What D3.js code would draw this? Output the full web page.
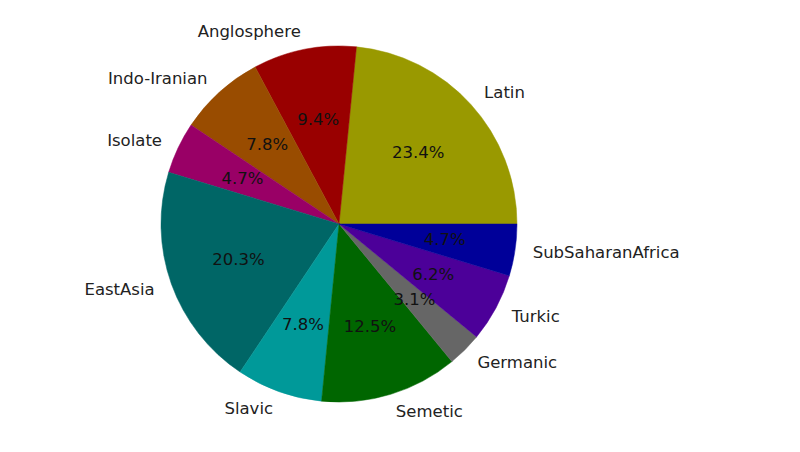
<!DOCTYPE html>
<html>
<head>
<meta charset="utf-8">
<script src="https://cdn.jsdelivr.net/npm/d3@7"></script>
<style>
  body { margin: 0; background: #fff; }
  text { font-family: "DejaVu Sans", sans-serif; }
</style>
</head>
<body>
<div id="chart"></div>
<script>
let width = 800,
    height = 452

// counts per language family (out of 64)
let families = ["Latin", "Anglosphere", "Indo-Iranian", "Isolate", "EastAsia",
                "Slavic", "Semetic", "Germanic", "Turkic", "SubSaharanAfrica"]
let counts = [15, 6, 5, 3, 13, 5, 8, 2, 4, 3]
let colors = ["#999900", "#990000", "#994c00", "#990066", "#006666",
              "#009999", "#006600", "#666666", "#4c0099", "#000099"]

let cx = 339, cy = 224, radius = 178

let svg = d3.select("#chart").append("svg")
  .attr("width", width)
  .attr("height", height)

let total = d3.sum(counts)

// matplotlib style: start at 3 o'clock, go counterclockwise
let pie = d3.pie()
  .sort(null)
  .startAngle(Math.PI / 2)
  .endAngle(Math.PI / 2 - 2 * Math.PI)

let arcs = pie(counts)

let arc = d3.arc()
  .innerRadius(0)
  .outerRadius(radius)

let g = svg.append("g")
  .attr("transform", "translate(" + cx + "," + cy + ")")

g.selectAll(".wedge")
  .data(arcs)
  .enter().append("path")
  .attr("class", "wedge")
  .attr("d", arc)
  .style("fill", (d, i) => colors[i])
  .style("stroke", (d, i) => colors[i])
  .style("stroke-width", 0.5)

// position on a circle of radius r at the wedge's middle angle
function pos(d, r) {
  let a = (d.startAngle + d.endAngle) / 2
  return [r * Math.sin(a), -r * Math.cos(a)]
}

// round half to even, like python's %1.1f on 6.25
function pct(v) {
  let x = v * 10, f = Math.floor(x), diff = x - f
  let r = Math.abs(diff - 0.5) < 1e-9 ? (f % 2 === 0 ? f : f + 1) : Math.round(x)
  return (r / 10).toFixed(1) + "%"
}

// percentage labels
g.selectAll(".pct")
  .data(arcs)
  .enter().append("text")
  .attr("class", "pct")
  .attr("x", d => pos(d, radius * 0.6)[0])
  .attr("y", d => pos(d, radius * 0.6)[1])
  .attr("text-anchor", "middle")
  .attr("dominant-baseline", "central")
  .style("font-size", "16.5px")
  .style("fill", "#111")
  .text(d => pct(d.value / total * 100))

// category labels
g.selectAll(".label")
  .data(arcs)
  .enter().append("text")
  .attr("class", "label")
  .attr("x", d => pos(d, radius * 1.1)[0])
  .attr("y", d => pos(d, radius * 1.1)[1])
  .attr("text-anchor", d => pos(d, 1)[0] >= 0 ? "start" : "end")
  .attr("dominant-baseline", "central")
  .style("font-size", "16.5px")
  .style("fill", "#222")
  .text((d, i) => families[i])
</script>
</body>
</html>
